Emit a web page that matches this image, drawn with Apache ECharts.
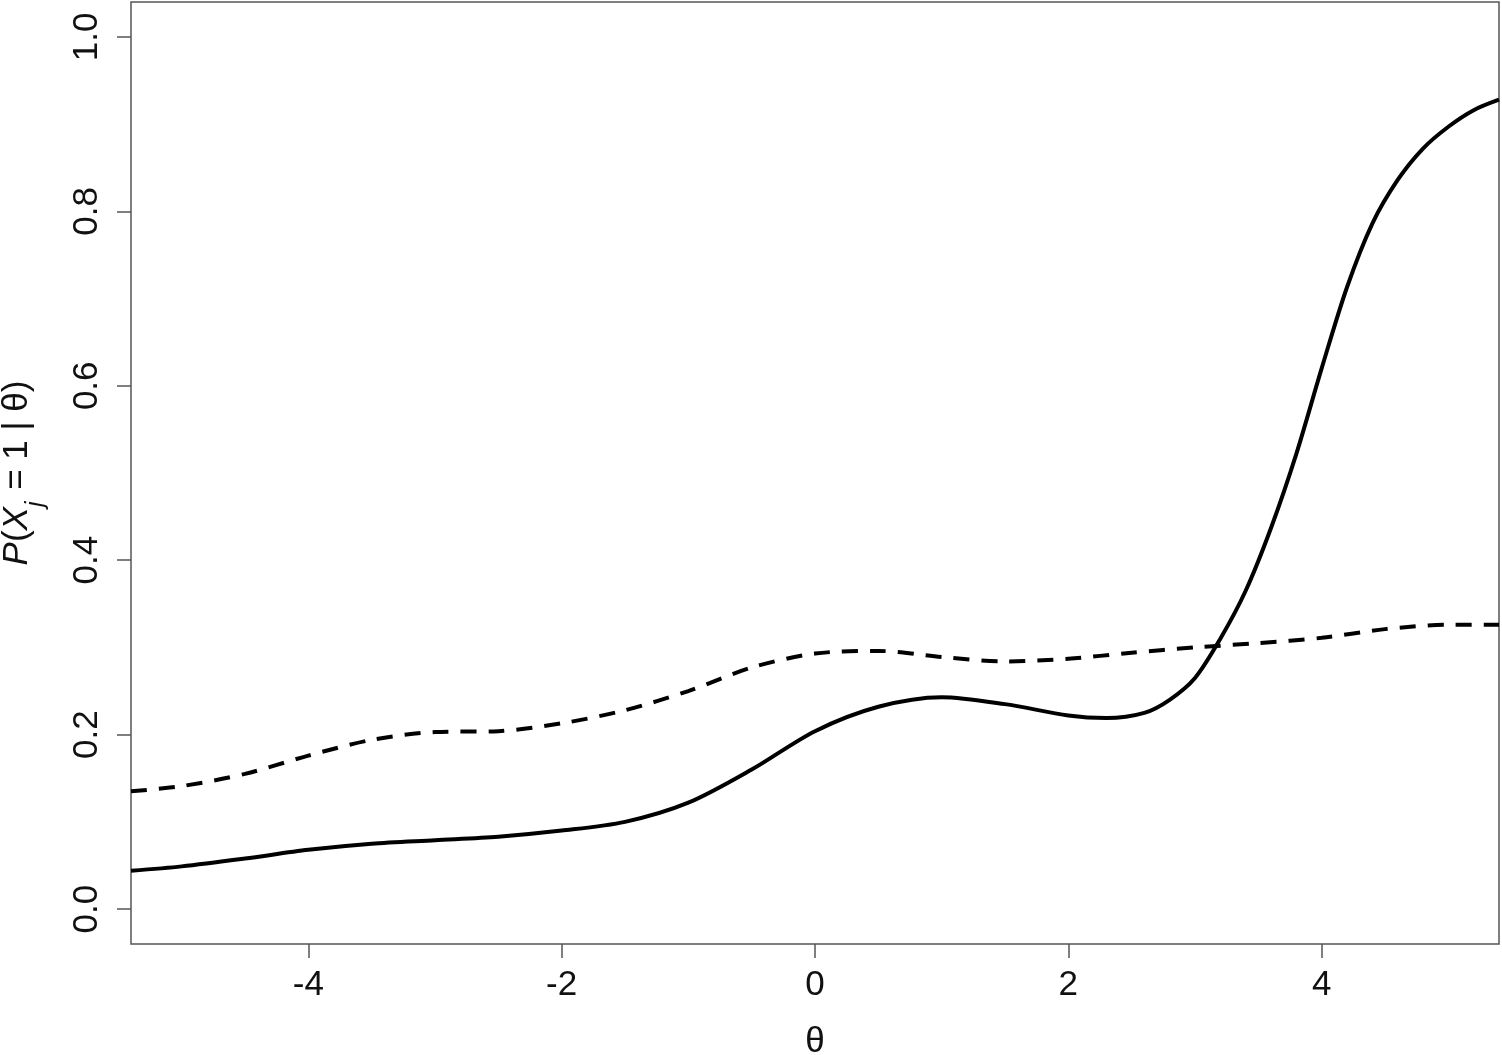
<!DOCTYPE html>
<html>
<head>
<meta charset="utf-8">
<script src="https://cdn.jsdelivr.net/npm/echarts@6/dist/echarts.min.js"></script>
<style>
  html, body { margin: 0; padding: 0; background: #fff; }
  #main { width: 1502px; height: 1055px; }
</style>
</head>
<body>
<div id="main"></div>
<script>
// theta grid for the solid curve
const thetaSolid = [-5.4, -5, -4.5, -4, -3.5, -3, -2.5, -2, -1.5, -1, -0.5, 0, 0.5, 1, 1.5, 2, 2.3, 2.6, 2.8, 3, 3.2, 3.4, 3.6, 3.8, 4, 4.2, 4.4, 4.6, 4.8, 5, 5.2, 5.4]
const probSolid = [0.044, 0.049, 0.058, 0.068, 0.075, 0.079, 0.083, 0.090, 0.100, 0.122, 0.160, 0.204, 0.232, 0.243, 0.235, 0.222, 0.219, 0.225, 0.240, 0.265, 0.310, 0.365, 0.437, 0.522, 0.620, 0.713, 0.786, 0.836, 0.872, 0.897, 0.916, 0.928]

// theta grid for the dashed curve
const thetaDashed = [-5.4, -5, -4.5, -4, -3.5, -3, -2.5, -2, -1.5, -1, -0.5, 0, 0.5, 1, 1.5, 2, 2.5, 3, 3.5, 4, 4.5, 5, 5.4]
const probDashed = [0.135, 0.141, 0.155, 0.176, 0.194, 0.203, 0.204, 0.213, 0.228, 0.250, 0.277, 0.293, 0.296, 0.289, 0.284, 0.287, 0.294, 0.300, 0.305, 0.311, 0.321, 0.326, 0.326]

const xTicks = [-4, -2, 0, 2, 4]
const yTicks = [0, 0.2, 0.4, 0.6, 0.8, 1.0]

const font = 'Liberation Sans, Arial, Helvetica, sans-serif'
const axisGrey = '#555'
const textColor = '#111'

const chart = echarts.init(document.getElementById('main'))

const pairs = (xs, ys) => xs.map((x, i) => [x, ys[i]])

const option = {
  animation: false,
  backgroundColor: '#fff',
  grid: {
    left: 131,
    right: 3,
    top: 2,
    bottom: 111,
    outerBoundsMode: 'none',
    containLabel: false,
    show: true,
    borderColor: axisGrey,
    borderWidth: 1.5,
    backgroundColor: 'transparent'
  },
  xAxis: {
    type: 'value',
    min: -5.4,
    max: 5.4,
    name: 'θ',
    nameLocation: 'middle',
    nameGap: 81,
    nameTextStyle: { fontFamily: font, fontSize: 35, color: textColor },
    axisLine: { show: false, onZero: false },
    splitLine: { show: false },
    axisTick: {
      show: true,
      inside: false,
      length: 14,
      customValues: xTicks,
      lineStyle: { color: axisGrey, width: 1.5 }
    },
    axisLabel: {
      customValues: xTicks,
      margin: 24,
      fontFamily: font,
      fontSize: 35,
      color: textColor,
      formatter: v => String(v)
    }
  },
  yAxis: {
    type: 'value',
    min: -0.04,
    max: 1.04,
    name: '{i|P}({i|X}{sub|j} = 1 | θ)',
    nameLocation: 'middle',
    nameRotate: 90,
    nameGap: 96,
    nameTextStyle: {
      fontFamily: font,
      fontSize: 35,
      color: textColor,
      rich: {
        i: { fontFamily: font, fontSize: 35, fontStyle: 'italic', color: textColor },
        sub: { fontFamily: font, fontSize: 25, fontStyle: 'italic', color: textColor, verticalAlign: 'bottom', padding: [0, 2, -14, 0] }
      }
    },
    axisLine: { show: false, onZero: false },
    splitLine: { show: false },
    axisTick: {
      show: true,
      inside: false,
      length: 14,
      customValues: yTicks,
      lineStyle: { color: axisGrey, width: 1.5 }
    },
    axisLabel: {
      customValues: yTicks,
      rotate: 90,
      margin: 26,
      fontFamily: font,
      fontSize: 35,
      color: textColor,
      formatter: v => v.toFixed(1)
    }
  },
  series: [
    {
      name: 'solid',
      type: 'line',
      data: pairs(thetaSolid, probSolid),
      showSymbol: false,
      smooth: 0.3,
      lineStyle: { color: '#000', width: 4, type: 'solid' },
      z: 3
    },
    {
      name: 'dashed',
      type: 'line',
      data: pairs(thetaDashed, probDashed),
      showSymbol: false,
      smooth: 0.3,
      lineStyle: { color: '#000', width: 4, type: [16, 12] },
      z: 2
    }
  ]
}

chart.setOption(option)
window.onresize = () => {
  chart.resize()
}
</script>
</body>
</html>
